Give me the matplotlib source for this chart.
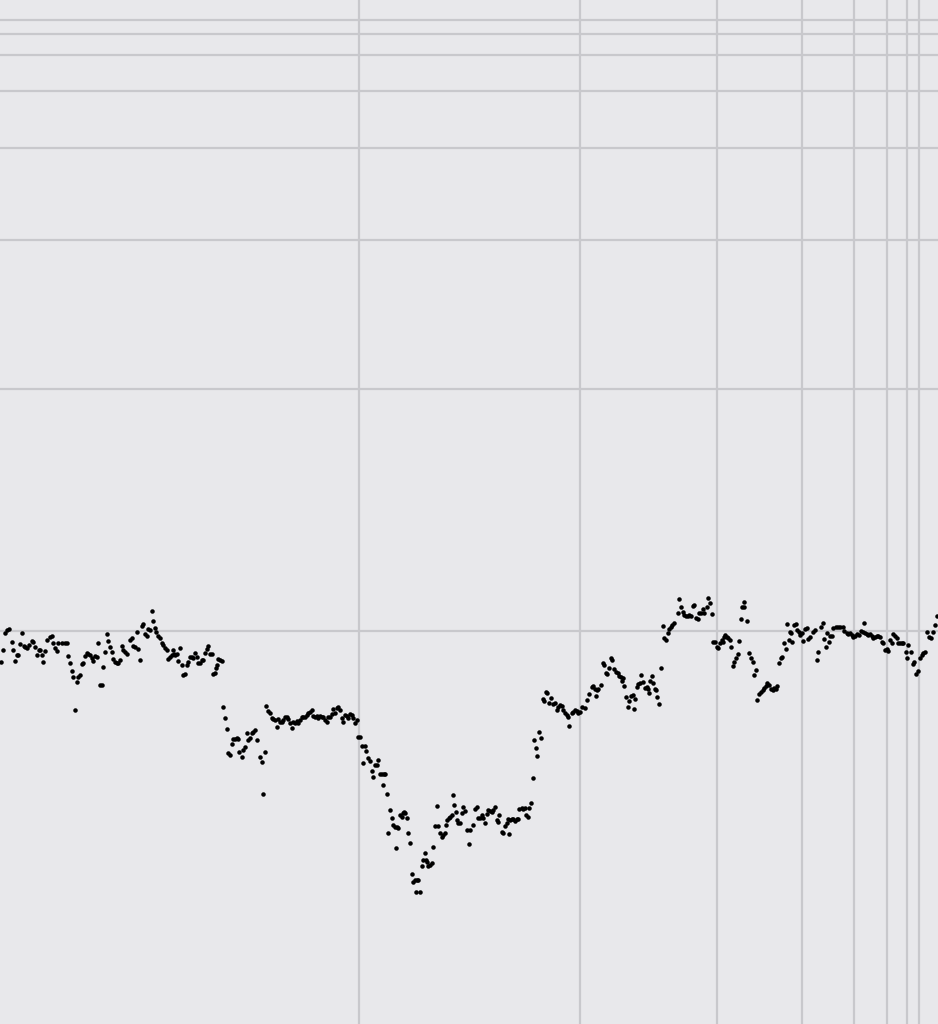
import matplotlib
matplotlib.use("Agg")
import matplotlib.pyplot as plt

# --- data (x position, value) ---
seg_a = [(1,662),(3,650),(5,633),(7,630),(9,629),(12,642),(13,650),(15,661),(17,655),(18,655),(20,644),(22,633),(24,646),(25,647),(27,648),(29,645),(32,641),(33,642),(35,647),(37,655),(39,650),(40,650),(42,655),(43,662),(45,651),(47,640),(50,637),(52,636),(53,643),(55,648),(57,651),(58,643),(62,643),(65,643),(67,643),(68,656),(70,663),(72,671),(73,677),(75,710),(77,682),(78,677),(80,675),(82,664),(83,663),(85,656),(87,653),(88,654),(90,655),(92,658),(93,661),(95,656),(97,657),(98,643),(100,685),(102,685),(103,667),(105,652),(107,634),(108,641),(110,647),(112,652),(113,659),(115,662),(117,663),(118,663)]
seg_b = [(120,660),(122,646),(123,650),(125,652),(127,654),(130,640),(132,638),(133,646),(135,647),(137,632),(138,649),(140,660),(142,626),(143,624),(145,634),(147,636),(148,629),(150,630),(152,611),(153,621),(155,628),(156,632),(158,636),(160,638),(162,643),(163,645),(165,648),(167,650),(168,659),(170,657),(172,655),(173,650),(174,654),(175,655),(177,654),(178,661),(180,648),(182,665),(183,675),(185,674),(187,665),(188,662),(190,657),(192,657),(193,658),(195,653),(197,657),(198,663),(200,663),(202,660),(203,660),(205,653),(207,649),(208,646),(210,654),(212,654),(213,674),(215,673),(216,668),(217,665),(218,659),(220,660),(222,661),(223,707),(225,718),(227,729),(228,753),(230,755),(232,744),(233,739),(235,739),(237,738),(238,739),(239,752)]
seg_c = [(242,757),(243,750),(245,747),(247,733),(248,740),(250,738),(252,733),(253,732),(255,730),(257,740),(260,757),(262,762),(263,794),(265,752),(266,706),(268,711),(270,713),(272,718),(273,719),(275,720),(277,727),(278,719),(280,722),(282,722),(283,720),(285,717),(287,717),(288,719),(290,723),(292,728),(293,722),(295,723),(297,721),(298,723),(300,720),(302,717),(303,717),(305,717),(307,715),(308,713),(310,712),(312,710),(313,716),(315,717),(317,716),(318,718),(320,716),(322,717),(323,717),(325,720),(327,722),(328,717),(330,717),(332,714),(333,709),(335,713),(337,708),(338,707),(340,710),(342,718),(343,722),(345,715),(347,716),(348,718),(350,714),(352,715),(353,718),(355,723),(357,720),(358,737)]
seg_d = [(360,737),(362,746),(363,763),(365,746),(366,751),(368,758),(370,761),(372,771),(373,777),(375,765),(377,765),(378,760),(380,774),(382,774),(383,785),(384,774),(385,774),(387,794),(388,833),(390,810),(392,818),(393,825),(395,827),(396,848),(397,827),(398,828),(400,815),(402,817),(403,813),(404,812),(405,813),(407,818),(408,833),(410,843),(412,874),(413,882),(415,880),(416,892),(417,880),(418,880),(420,892),(422,866),(423,860),(425,853),(426,860),(427,862),(428,866),(430,865),(432,863),(433,847),(435,826),(437,806),(438,826),(440,833),(442,837),(443,835),(445,833),(446,825),(447,820),(449,818),(450,817),(452,815),(453,795),(454,805),(456,812),(457,820),(458,823),(460,823),(462,813),(463,807),(465,811),(467,830),(469,844),(470,830)]
seg_e = [(473,825),(475,809),(477,807),(478,818),(480,818),(482,815),(483,818),(485,823),(487,814),(488,810),(490,811),(492,812),(493,810),(495,807),(497,820),(498,822),(499,815),(502,832),(503,833),(505,826),(507,823),(508,819),(509,834),(510,820),(512,819),(513,819),(515,821),(517,819),(518,819),(519,809),(522,808),(523,809),(525,808),(526,815),(528,817),(529,808),(531,803),(533,778),(534,740),(536,748),(537,756),(539,732),(541,738),(543,699),(544,701),(546,692),(547,693),(549,703),(551,698),(553,704),(555,703),(557,710),(558,707),(560,705),(562,706),(563,710),(565,713),(567,715),(568,717),(569,726),(572,713),(573,712),(575,710),(577,711),(578,713)]
seg_f = [(580,712),(582,707),(585,708),(587,700),(589,694),(592,687),(593,686),(595,689),(596,696),(597,690),(598,689),(601,685),(603,663),(604,665),(606,673),(607,674),(609,668),(611,658),(612,660),(614,669),(616,672),(618,673),(619,676),(621,677),(622,681),(623,678),(624,686),(626,697),(628,707),(629,701),(631,696),(633,695),(634,709),(635,699),(637,687),(638,684),(640,683),(641,675),(643,682),(645,688),(647,687),(648,689),(649,693),(650,681),(652,676),(653,683),(655,689),(656,690),(657,697),(659,704),(661,668),(663,626),(664,638),(666,640),(668,633),(669,629),(671,627),(672,625),(674,623),(678,613),(679,599)]
seg_g = [(681,607),(683,612),(684,615),(686,616),(688,616),(689,615),(691,616),(693,606),(694,605),(696,618),(698,619),(699,613),(701,613),(703,609),(704,613),(707,607),(708,598),(710,603),(712,614),(713,642),(715,642),(717,647),(718,648),(720,643),(722,640),(723,642),(724,637),(725,635),(727,637),(728,638),(730,640),(731,647),(733,666),(734,662),(736,658),(738,654),(739,641),(741,619),(742,607),(744,607),(744,602),(747,621),(749,653),(751,658),(753,662),(754,675),(756,670),(757,700),(759,694),(761,692),(763,690),(764,688),(766,686),(767,683),(769,685),(771,689),(773,690),(774,688),(776,689),(777,686),(779,663),(781,658),(782,657),(784,643),(786,649),(787,624),(789,640),(790,632),(791,633),(792,642),(794,625),(796,624),(797,630),(799,632)]
seg_h = [(800,635),(802,633),(803,641),(805,629),(807,628),(808,639),(810,637),(813,632),(815,630),(817,660),(818,652),(821,627),(823,623),(824,639),(826,647),(827,633),(829,642),(830,636),(832,636),(833,628),(836,627),(838,627),(840,627),(843,627),(844,631),(847,633),(848,634),(850,633),(852,635),(853,637),(855,636),(857,634),(859,635),(861,631),(863,632),(864,623),(865,633),(867,634),(868,635),(870,634),(872,636),(873,638),(875,637),(877,636),(878,636),(880,637),(882,642),(883,643),(885,650),(887,649),(888,651),(890,640),(892,643),(893,634),(895,636),(897,638),(898,643),(900,643),(902,643),(903,643),(906,652),(907,658),(908,645),(911,652),(913,664),(914,662),(916,674),(918,671),(920,658),(922,655),(923,653),(925,652),(927,632),(929,637),(931,638),(933,632),(935,625),(937,616)]

x_grid = [359, 580, 717, 802, 854, 886.5, 907, 918.5]
y_grid = [20, 34, 55, 91, 148, 240, 389, 631]

points = seg_a + seg_b + seg_c + seg_d + seg_e + seg_f + seg_g + seg_h
xs = [p[0] for p in points]
ys = [p[1] for p in points]

fig = plt.figure(figsize=(9.38, 10.24), dpi=100)
fig.patch.set_facecolor("#e8e8eb")
ax = fig.add_axes([0, 0, 1, 1])
ax.set_facecolor("#e8e8eb")
ax.set_xlim(0, 938)
ax.set_ylim(1024, 0)
ax.set_xticks(x_grid)
ax.set_yticks(y_grid)
ax.tick_params(length=0, labelbottom=False, labelleft=False)
for s in ax.spines.values():
    s.set_visible(False)
ax.set_axisbelow(True)
ax.grid(True, color="#c8c8cc", linewidth=1.6)
ax.scatter(xs, ys, s=10.5, c="black", linewidths=0, zorder=3)

fig.savefig("out.png", dpi=100, facecolor=fig.get_facecolor())
